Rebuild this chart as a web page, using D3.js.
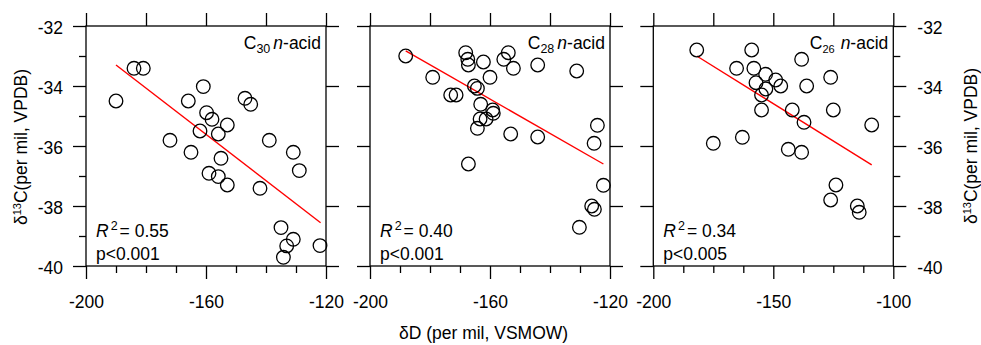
<!DOCTYPE html>
<html>
<head>
<meta charset="utf-8">
<script src="https://cdn.jsdelivr.net/npm/d3@7"></script>
<style>
  body { margin: 0; background: #fff; }
  text { font-family: "Liberation Sans", Arial, sans-serif; }
</style>
</head>
<body>
<div id="chart"></div>
<script>
// dD (x) and d13C (y), one pair of arrays per acid
const c30D = [-190, -184, -180.9, -160.9, -165.9, -159.8, -158, -162, -155.9, -152.9, -172, -165, -155, -159, -155.9, -152.9, -147, -145.1, -138.9, -142, -130.9, -128.9, -135, -130.9, -133.1, -134.2, -122]
const c30C = [-34.5, -33.41, -33.41, -34.02, -34.5, -34.89, -35.11, -35.5, -35.6, -35.3, -35.81, -36.21, -36.41, -36.91, -37.02, -37.3, -34.41, -34.61, -35.81, -37.41, -36.21, -36.82, -38.72, -39.11, -39.33, -39.71, -39.32]

const c28D = [-188.1, -179.1, -173.1, -171.3, -168.1, -167.4, -167.2, -162.2, -160, -155.4, -153.9, -152.2, -144.1, -131.1, -165.2, -164.2, -163.1, -159.1, -158.9, -163.3, -161.3, -164.2, -153.1, -144.1, -167.2, -124.2, -125.3, -122.2, -126.1, -125.2, -130.2]
const c28C = [-33.0, -33.71, -34.3, -34.3, -32.89, -33.11, -33.3, -33.2, -33.71, -33.11, -32.89, -33.41, -33.3, -33.5, -34.0, -34.08, -34.61, -34.8, -34.91, -35.1, -35.1, -35.41, -35.6, -35.7, -36.6, -35.31, -35.91, -37.31, -38.0, -38.11, -38.71]

const c26D = [-181.9, -175, -165.3, -162.9, -159, -158.1, -153.2, -157.2, -149, -146.9, -153.1, -154.9, -154.9, -142.1, -137.2, -138.2, -136.1, -126.1, -125, -109, -143.75, -138.2, -123.9, -126.1, -115, -114.2]
const c26C = [-32.8, -35.91, -33.41, -35.71, -32.8, -33.41, -33.61, -33.89, -33.8, -34.0, -34.1, -34.3, -34.8, -34.8, -35.21, -33.11, -34.0, -33.71, -34.8, -35.3, -36.11, -36.21, -37.3, -37.8, -38.0, -38.21]

// regression line end points
const c30FitD = [-190, -121.8]
const c30FitC = [-33.3, -38.56]
const c28FitD = [-188.1, -122.2]
const c28FitC = [-32.83, -36.6]
const c26FitD = [-181.9, -109]
const c26FitC = [-33.0, -36.63]

const acidNums = ['30', '28', '26']
const r2Labels = ['0.55', '0.40', '0.34']
const pLabels = ['p<0.001', 'p<0.001', 'p<0.005']

const xDomains = [[-200, -120], [-200, -120], [-200, -100]]
const xMajorTicks = [[-200, -160, -120], [-200, -160, -120], [-200, -150, -100]]
const xMinorTicks = [
  [-190, -180, -170, -150, -140, -130],
  [-190, -180, -170, -150, -140, -130],
  [-187.5, -175, -162.5, -137.5, -125, -112.5]
]
const xTopTicks = [
  [-200, -180, -160, -140, -120],
  [-200, -180, -160, -140, -120],
  [-200, -175, -150, -125, -100]
]
const yDomain = [-40, -32]
const yMajorTicks = [-40, -38, -36, -34, -32]
const yMinorTicks = [-39, -37, -35, -33]

const seriesD = [c30D, c28D, c26D]
const seriesC = [c30C, c28C, c26C]
const fitD = [c30FitD, c28FitD, c26FitD]
const fitC = [c30FitC, c28FitC, c26FitC]

const width = 981, height = 345
const panelLeft = [86, 370, 653.3]
const panelW = 240
const plotTop = 26, plotBottom = 266
const fs = 17.5
const fmt = d => String(d)   // plain hyphen, as in the figure

const svg = d3.select('#chart').append('svg')
  .attr('width', width)
  .attr('height', height)

const y = d3.scaleLinear().domain(yDomain).range([plotBottom, plotTop])

function styleAxis(g) {
  g.select('.domain').remove()
  g.selectAll('line').attr('stroke', '#000').attr('stroke-width', 1.3)
  g.selectAll('text').attr('font-size', fs).attr('fill', '#000')
    .attr('font-family', '"Liberation Sans", Arial, sans-serif')
}

panelLeft.forEach((left, i) => {
  const x = d3.scaleLinear().domain(xDomains[i]).range([left, left + panelW])
  const g = svg.append('g')

  // bottom axis
  g.append('g').attr('transform', `translate(0,${plotBottom})`)
    .call(d3.axisBottom(x).tickValues(xMinorTicks[i]).tickSize(7).tickSizeOuter(0).tickFormat(''))
    .call(styleAxis)
  g.append('g').attr('transform', `translate(0,${plotBottom})`)
    .call(d3.axisBottom(x).tickValues(xMajorTicks[i]).tickSize(13).tickSizeOuter(0).tickFormat(fmt))
    .call(styleAxis)
    .selectAll('text').attr('y', 42).attr('dy', 0)

  // top axis
  g.append('g').attr('transform', `translate(0,${plotTop})`)
    .call(d3.axisTop(x).tickValues(xTopTicks[i]).tickSize(13).tickSizeOuter(0).tickFormat(''))
    .call(styleAxis)

  // left axis
  const leftAx = g.append('g').attr('transform', `translate(${left},0)`)
    .call(d3.axisLeft(y).tickValues(yMajorTicks).tickSize(13).tickSizeOuter(0).tickFormat(fmt))
    .call(styleAxis)
  if (i === 0) {
    leftAx.selectAll('text').attr('x', -23).attr('dy', '0.4em')
    g.append('g').attr('transform', `translate(${left},0)`)
      .call(d3.axisLeft(y).tickValues(yMinorTicks).tickSize(7).tickSizeOuter(0).tickFormat(''))
      .call(styleAxis)
  } else {
    leftAx.selectAll('text').remove()
  }

  // right axis
  const rightAx = g.append('g').attr('transform', `translate(${left + panelW},0)`)
    .call(d3.axisRight(y).tickValues(yMajorTicks).tickSize(13).tickSizeOuter(0).tickFormat(fmt))
    .call(styleAxis)
  if (i === 2) {
    rightAx.selectAll('text').attr('x', 24).attr('dy', '0.4em')
    g.append('g').attr('transform', `translate(${left + panelW},0)`)
      .call(d3.axisRight(y).tickValues(yMinorTicks).tickSize(7).tickSizeOuter(0).tickFormat(''))
      .call(styleAxis)
  } else {
    rightAx.selectAll('text').remove()
  }

  // frame
  g.append('rect')
    .attr('x', x.range()[0]).attr('y', plotTop)
    .attr('width', panelW).attr('height', plotBottom - plotTop)
    .attr('fill', 'none').attr('stroke', '#000').attr('stroke-width', 1.3)

  // fit line
  g.append('line')
    .attr('x1', x(fitD[i][0])).attr('y1', y(fitC[i][0]))
    .attr('x2', x(fitD[i][1])).attr('y2', y(fitC[i][1]))
    .attr('stroke', '#ff0000').attr('stroke-width', 1.4)

  // points
  g.selectAll('circle')
    .data(d3.zip(seriesD[i], seriesC[i]))
    .enter()
    .append('circle')
    .attr('cx', d => x(d[0]))
    .attr('cy', d => y(d[1]))
    .attr('r', 6.8)
    .attr('fill', 'none')
    .attr('stroke', '#000')
    .attr('stroke-width', 1.3)

  // acid label
  const lab = g.append('text')
    .attr('x', left + panelW - 5).attr('y', plotTop + 23)
    .attr('text-anchor', 'end').attr('font-size', fs)
  lab.append('tspan').text('C')
  lab.append('tspan').attr('font-size', i === 2 ? 11 : 12.5).attr('dy', 4).text(acidNums[i])
  lab.append('tspan').attr('dy', -4).attr('font-style', 'italic').attr('dx', i === 2 ? 6 : 3).text('n')
  lab.append('tspan').text('-acid')

  // stats
  const r2 = g.append('text')
    .attr('x', left + 10).attr('y', 237).attr('font-size', fs)
  r2.append('tspan').attr('font-style', 'italic').text('R')
  r2.append('tspan').attr('font-size', 12.5).attr('dy', -7).attr('dx', 2).text('2')
  r2.append('tspan').attr('dy', 7).attr('dx', 2).text('= ' + r2Labels[i])

  g.append('text')
    .attr('x', left + 10).attr('y', 260).attr('font-size', fs)
    .text(pLabels[i])
})

// axis titles
function yTitle(tx, ty) {
  const t = svg.append('text')
    .attr('transform', `translate(${tx},${ty}) rotate(-90)`)
    .attr('text-anchor', 'middle').attr('font-size', fs)
  t.append('tspan').text('δ')
  t.append('tspan').attr('font-size', 11).attr('dy', -6).text('13')
  t.append('tspan').attr('dy', 6).text('C(per mil, VPDB)')
}
yTitle(27, 147)
yTitle(977, 146)

svg.append('text')
  .attr('x', 483.5).attr('y', 339)
  .attr('text-anchor', 'middle').attr('font-size', fs)
  .text('δD (per mil, VSMOW)')
</script>
</body>
</html>
